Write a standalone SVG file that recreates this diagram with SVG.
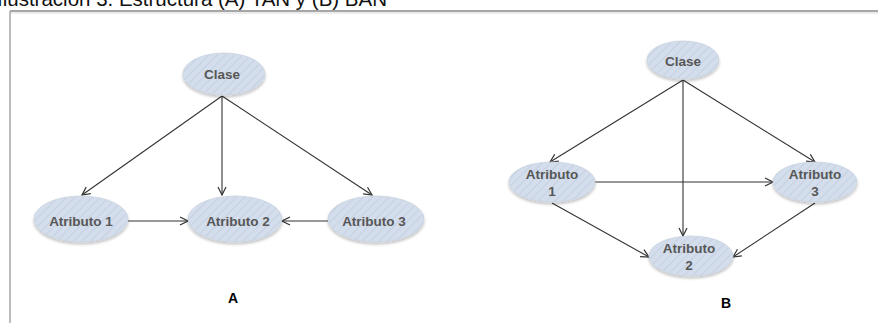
<svg xmlns="http://www.w3.org/2000/svg" width="878" height="323" viewBox="0 0 878 323">
  <defs>
    <pattern id="hatch" width="6" height="6" patternUnits="userSpaceOnUse" patternTransform="rotate(45)">
      <rect width="6" height="6" fill="#d3ddeb"/>
      <line x1="0" y1="0" x2="0" y2="6" stroke="#c5d1e2" stroke-width="2"/>
    </pattern>
    <filter id="shadow" x="-20%" y="-20%" width="140%" height="160%">
      <feGaussianBlur in="SourceAlpha" stdDeviation="1.5"/>
      <feOffset dx="0" dy="2" result="b"/>
      <feComponentTransfer><feFuncA type="linear" slope="0.25"/></feComponentTransfer>
      <feMerge><feMergeNode/><feMergeNode in="SourceGraphic"/></feMerge>
    </filter>
    <marker id="arrow" viewBox="0 0 10 10" refX="9" refY="5" markerWidth="10" markerHeight="10" markerUnits="userSpaceOnUse" orient="auto">
      <path d="M1,1 L9,5 L1,9" fill="none" stroke="#333" stroke-width="1.2"/>
    </marker>
  </defs>
  <style>
    .node ellipse { fill: url(#hatch); stroke: #c9d3e0; stroke-width: 0.8; filter: url(#shadow); }
    .node text { font-family: "Liberation Sans", Arial, sans-serif; font-size: 13.5px; font-weight: bold; fill: #575757; text-anchor: middle; }
    .edges line { stroke: #333; stroke-width: 1.1; marker-end: url(#arrow); }
    .label { font-family: "Liberation Sans", Arial, sans-serif; font-size: 14px; font-weight: bold; fill: #000; text-anchor: middle; }
    .title { font-family: "Liberation Sans", Arial, sans-serif; font-size: 20.5px; fill: #111; }
  </style>

  <rect width="878" height="323" fill="#fff"/>

  <!-- caption, running off the top edge -->
  <text class="title" x="-3" y="6">Ilustración 3. Estructura (A) TAN y (B) BAN</text>

  <!-- frame -->
  <line x1="10" y1="13" x2="878" y2="13" stroke="#ececec" stroke-width="2"/>
  <line x1="10" y1="11" x2="878" y2="11" stroke="#a6a6a6" stroke-width="2"/>
  <line x1="10" y1="11" x2="10" y2="323" stroke="#a6a6a6" stroke-width="1.5"/>

  <!-- connectors -->
  <g id="edges" class="edges">
    <!-- A -->
    <line x1="222" y1="96" x2="82" y2="195"/>
    <line x1="222" y1="96" x2="222" y2="195"/>
    <line x1="222" y1="96" x2="372" y2="195"/>
    <line x1="128" y1="221" x2="188" y2="221"/>
    <line x1="328" y1="221" x2="282" y2="221"/>
    <!-- B -->
    <line x1="683" y1="80" x2="550" y2="162"/>
    <line x1="683" y1="80" x2="815" y2="162"/>
    <line x1="683" y1="80" x2="683" y2="236"/>
    <line x1="594" y1="182" x2="773" y2="182"/>
    <line x1="552" y1="203" x2="649" y2="257"/>
    <line x1="815" y1="203" x2="733" y2="257"/>
  </g>

  <!-- diagram A -->
  <g id="a-clase" class="node">
    <ellipse cx="224" cy="74" rx="41" ry="21"/>
    <text x="222" y="79">Clase</text>
  </g>
  <g id="a-atributo1" class="node">
    <ellipse cx="81" cy="219" rx="47" ry="23"/>
    <text x="81" y="226">Atributo 1</text>
  </g>
  <g id="a-atributo2" class="node">
    <ellipse cx="235" cy="219" rx="47" ry="23"/>
    <text x="238" y="226">Atributo 2</text>
  </g>
  <g id="a-atributo3" class="node">
    <ellipse cx="376" cy="219" rx="48" ry="23"/>
    <text x="374" y="226">Atributo 3</text>
  </g>
  <text class="label" x="233" y="303">A</text>

  <!-- diagram B -->
  <g id="b-clase" class="node">
    <ellipse cx="683" cy="60" rx="36" ry="19"/>
    <text x="683" y="66">Clase</text>
  </g>
  <g id="b-atributo1" class="node">
    <ellipse cx="552" cy="182" rx="43" ry="20"/>
    <text x="552" y="179">Atributo</text>
    <text x="552" y="196">1</text>
  </g>
  <g id="b-atributo3" class="node">
    <ellipse cx="815" cy="182" rx="42" ry="20"/>
    <text x="815" y="179">Atributo</text>
    <text x="815" y="196">3</text>
  </g>
  <g id="b-atributo2" class="node">
    <ellipse cx="691" cy="256" rx="42" ry="20"/>
    <text x="689" y="253">Atributo</text>
    <text x="689" y="270">2</text>
  </g>
  <text class="label" x="726" y="308">B</text>
</svg>
